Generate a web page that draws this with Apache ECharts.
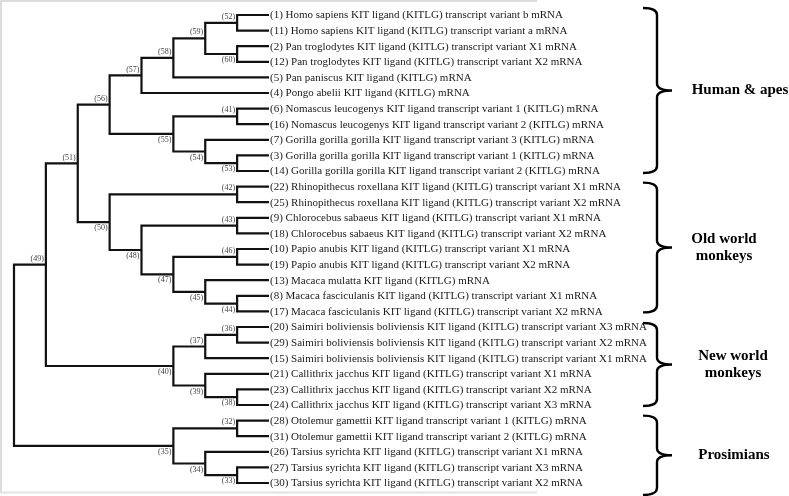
<!DOCTYPE html>
<html><head><meta charset="utf-8">
<script src="https://cdn.jsdelivr.net/npm/echarts@6/dist/echarts.min.js"></script>
<style>html,body{margin:0;padding:0;background:#fff}#c{width:789px;height:496px}</style>
</head><body><div id="c"></div>
<script>
// Tree topology (leaf numbers, internal node labels after ')')
const treeNewick = "((((((((1,11)52,(2,12)60)59,5)58,4)57,((6,16)41,(7,(3,14)53)54)55)56,((22,25)42,((9,18)43,((10,19)46,(13,(8,17)44)45)47)48)50)51,(((20,29)36,15)37,(21,(23,24)38)39)40)49,((28,31)32,(26,(27,30)33)34)35)";

const leafNames = {
  1: "Homo sapiens KIT ligand (KITLG) transcript variant b mRNA",
  11: "Homo sapiens KIT ligand (KITLG) transcript variant a mRNA",
  2: "Pan troglodytes KIT ligand (KITLG) transcript variant X1 mRNA",
  12: "Pan troglodytes KIT ligand (KITLG) transcript variant X2 mRNA",
  5: "Pan paniscus KIT ligand (KITLG) mRNA",
  4: "Pongo abelii KIT ligand (KITLG) mRNA",
  6: "Nomascus leucogenys KIT ligand transcript variant 1 (KITLG) mRNA",
  16: "Nomascus leucogenys KIT ligand transcript variant 2 (KITLG) mRNA",
  7: "Gorilla gorilla gorilla KIT ligand transcript variant 3 (KITLG) mRNA",
  3: "Gorilla gorilla gorilla KIT ligand transcript variant 1 (KITLG) mRNA",
  14: "Gorilla gorilla gorilla KIT ligand transcript variant 2 (KITLG) mRNA",
  22: "Rhinopithecus roxellana KIT ligand (KITLG) transcript variant X1 mRNA",
  25: "Rhinopithecus roxellana KIT ligand (KITLG) transcript variant X2 mRNA",
  9: "Chlorocebus sabaeus KIT ligand (KITLG) transcript variant X1 mRNA",
  18: "Chlorocebus sabaeus KIT ligand (KITLG) transcript variant X2 mRNA",
  10: "Papio anubis KIT ligand (KITLG) transcript variant X1 mRNA",
  19: "Papio anubis KIT ligand (KITLG) transcript variant X2 mRNA",
  13: "Macaca mulatta KIT ligand (KITLG) mRNA",
  8: "Macaca fasciculanis KIT ligand (KITLG) transcript variant X1 mRNA",
  17: "Macaca fasciculanis KIT ligand (KITLG) transcript variant X2 mRNA",
  20: "Saimiri boliviensis boliviensis KIT ligand (KITLG) transcript variant X3 mRNA",
  29: "Saimiri boliviensis boliviensis KIT ligand (KITLG) transcript variant X2 mRNA",
  15: "Saimiri boliviensis boliviensis KIT ligand (KITLG) transcript variant X1 mRNA",
  21: "Callithrix jacchus KIT ligand (KITLG) transcript variant X1 mRNA",
  23: "Callithrix jacchus KIT ligand (KITLG) transcript variant X2 mRNA",
  24: "Callithrix jacchus KIT ligand (KITLG) transcript variant X3 mRNA",
  28: "Otolemur gamettii KIT ligand transcript variant 1 (KITLG) mRNA",
  31: "Otolemur gamettii KIT ligand transcript variant 2 (KITLG) mRNA",
  26: "Tarsius syrichta KIT ligand (KITLG) transcript variant X1 mRNA",
  27: "Tarsius syrichta KIT ligand (KITLG) transcript variant X3 mRNA",
  30: "Tarsius syrichta KIT ligand (KITLG) transcript variant X2 mRNA"
};

const groupNames = ["Human & apes", "Old world\nmonkeys", "New world\nmonkeys", "Prosimians"];
const groupFirstLeaf = [1, 22, 20, 28];
const groupLastLeaf = [14, 17, 24, 30];

// ---- layout / style constants (not data) ----
const braceTopPad = [-7, -4, -4, -5];
const braceBottomPad = [2, 1, 1, 12];
const groupLabelX = [740, 724, 733, 734];
const braceX0 = 643, braceXV = 657, braceXT = 672, braceR = 7;
const SERIF = "'Liberation Serif','Times New Roman',serif";

// ---- parse tree ----
function parseNewick(s) {
  let i = 0;
  function node() {
    const n = { children: [] };
    if (s[i] === '(') {
      i++;
      n.children.push(node());
      while (s[i] === ',') { i++; n.children.push(node()); }
      i++; // ')'
    }
    let name = '';
    while (i < s.length && ',();'.indexOf(s[i]) < 0) name += s[i++];
    n.name = name;
    return n;
  }
  return node();
}
const root = parseNewick(treeNewick);
const leaves = [], internals = [];
function walk(n, parent, idx) {
  n.parent = parent; n.childIdx = idx;
  if (!n.children.length) {
    n.y = leaves.length; n.h = 0; leaves.push(n);
  } else {
    n.children.forEach((c, k) => walk(c, n, k));
    n.h = 1 + Math.max.apply(null, n.children.map(c => c.h));
    n.y = (n.children[0].y + n.children[n.children.length - 1].y) / 2;
    internals.push(n);
  }
}
walk(root, null, 0);
function setX(n) { n.x = root.h - n.h; n.children.forEach(setX); }
setX(root);
const leafIndexOf = {};
leaves.forEach(l => { leafIndexOf[l.name] = l.y; });

const chart = echarts.init(document.getElementById('c'), null, { renderer: 'canvas' });

const option = {
  animation: false,
  backgroundColor: '#ffffff',
  grid: { left: 14, right: 520, top: 7.2, bottom: 5.2 },
  xAxis: { type: 'value', min: 0, max: root.h, show: false },
  yAxis: { type: 'value', inverse: true, min: -0.5, max: leaves.length - 0.5, show: false },
  graphic: [
    { type: 'line', shape: { x1: 0, y1: 1, x2: 537, y2: 1 }, style: { stroke: '#dcdcdc', lineWidth: 2 }, silent: true },
    { type: 'line', shape: { x1: 1, y1: 0, x2: 1, y2: 493 }, style: { stroke: '#dcdcdc', lineWidth: 2 }, silent: true },
    { type: 'line', shape: { x1: 0, y1: 492.5, x2: 537, y2: 492.5 }, style: { stroke: '#e2e2e2', lineWidth: 2 }, silent: true }
  ],
  series: [
    {
      type: 'custom', name: 'branches', clip: false,
      data: internals.map(n => [n.x, n.y]),
      renderItem: function (params, api) {
        const n = internals[params.dataIndex];
        const p = api.coord([n.x, n.y]);
        const cs = n.children.map(c => api.coord([c.x, c.y]));
        const first = cs[0], last = cs[cs.length - 1];
        const children = [{
          type: 'polyline',
          shape: { points: [[first[0], first[1]], [p[0], first[1]], [p[0], last[1]], [last[0], last[1]]] },
          style: { stroke: '#111', lineWidth: 2.2, fill: null, lineJoin: 'miter' }
        }];
        for (let k = 1; k < cs.length - 1; k++) {
          children.push({ type: 'line', shape: { x1: p[0], y1: cs[k][1], x2: cs[k][0], y2: cs[k][1] },
            style: { stroke: '#111', lineWidth: 2.2 } });
        }
        return { type: 'group', children: children };
      }
    },
    {
      type: 'custom', name: 'nodeLabels', clip: false,
      data: internals.filter(n => n.parent).map(n => [n.x, n.y]),
      renderItem: function (params, api) {
        const n = internals.filter(m => m.parent)[params.dataIndex];
        const p = api.coord([n.x, n.y]);
        const upper = n.childIdx === 0;
        return {
          type: 'text',
          style: {
            text: '(' + n.name + ')', x: p[0] - 2, y: upper ? p[1] - 2 : p[1] + 2,
            align: 'right', verticalAlign: upper ? 'bottom' : 'top',
            font: '8px ' + SERIF, fill: '#444'
          }
        };
      }
    },
    {
      type: 'custom', name: 'leafLabels', clip: false,
      data: leaves.map(l => [l.x, l.y]),
      renderItem: function (params, api) {
        const l = leaves[params.dataIndex];
        const p = api.coord([l.x, l.y]);
        return {
          type: 'text',
          style: {
            text: '(' + l.name + ') ' + leafNames[l.name], x: p[0] + 1, y: p[1] + 0.5,
            align: 'left', verticalAlign: 'middle',
            font: '11px ' + SERIF, fill: '#1a1a1a'
          }
        };
      }
    },
    {
      type: 'custom', name: 'groups', clip: false,
      data: groupNames.map((g, i) => [leafIndexOf[groupFirstLeaf[i]], leafIndexOf[groupLastLeaf[i]]]),
      renderItem: function (params, api) {
        const i = params.dataIndex;
        const yT = api.coord([0, leafIndexOf[groupFirstLeaf[i]]])[1] + braceTopPad[i];
        const yB = api.coord([0, leafIndexOf[groupLastLeaf[i]]])[1] + braceBottomPad[i];
        const ym = (yT + yB) / 2;
        const r = braceR;
        const d = 'M' + braceX0 + ' ' + yT +
          ' Q' + braceXV + ' ' + yT + ' ' + braceXV + ' ' + (yT + r) +
          ' L' + braceXV + ' ' + (ym - r) +
          ' Q' + braceXV + ' ' + ym + ' ' + braceXT + ' ' + ym +
          ' Q' + braceXV + ' ' + ym + ' ' + braceXV + ' ' + (ym + r) +
          ' L' + braceXV + ' ' + (yB - r) +
          ' Q' + braceXV + ' ' + yB + ' ' + braceX0 + ' ' + yB;
        return {
          type: 'group',
          children: [
            { type: 'path', shape: { pathData: d }, style: { stroke: '#000', lineWidth: 2.4, fill: null } },
            { type: 'text', style: {
                text: groupNames[i], x: groupLabelX[i], y: ym, align: 'center', verticalAlign: 'middle',
                font: 'bold 15px ' + SERIF, fill: '#000', lineHeight: 17 } }
          ]
        };
      }
    }
  ]
};
chart.setOption(option);
</script>
</body></html>
